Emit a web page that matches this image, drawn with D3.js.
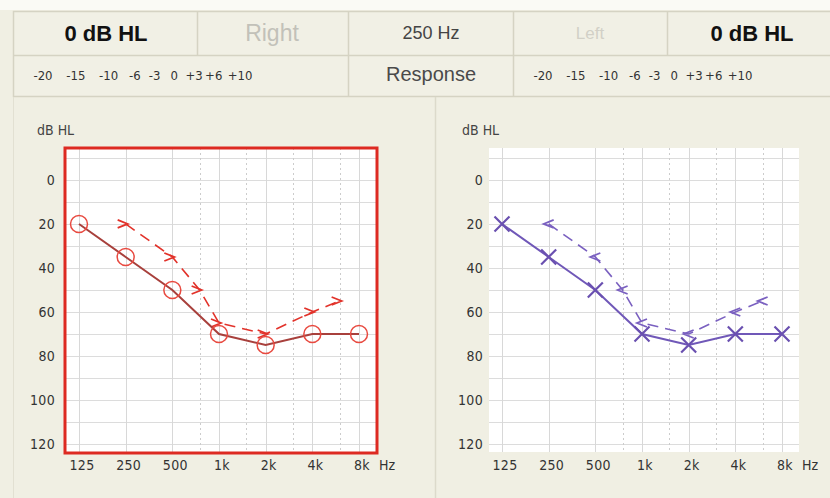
<!DOCTYPE html>
<html>
<head>
<meta charset="utf-8">
<script src="https://cdn.jsdelivr.net/npm/d3@7"></script>
<style>
  html, body { margin: 0; padding: 0; background: #f0efe3; }
  svg { display: block; font-family: "Liberation Sans", Arial, sans-serif; }
</style>
</head>
<body>
<script>
// audiogram data
var freqTicks = [125, 250, 500, 1000, 2000, 4000, 8000];
var freqLabels = ["125", "250", "500", "1k", "2k", "4k", "8k"];
var halfOctaves = [750, 1500, 3000, 6000];
var dbTicks = [0, 20, 40, 60, 80, 100, 120];
var dbGrid = [-10, 0, 10, 20, 30, 40, 50, 60, 70, 80, 90, 100, 110, 120];

var airFreqs = [125, 250, 500, 1000, 2000, 4000, 8000];
var rightAir = [20, 35, 50, 70, 75, 70, 70];
var leftAir = [20, 35, 50, 70, 75, 70, 70];

var boneFreqs = [250, 500, 750, 1000, 2000, 4000, 6000];
var rightBone = [20, 35, 50, 65, 70, 60, 55];
var leftBone = [20, 35, 50, 65, 70, 60, 55];

var maskSteps = [-20, -15, -10, -6, -3, 0, 3, 6, 10];

var WIDTH = 830, HEIGHT = 498;
var LINE = "#d5d3c3"; // header cell borders
var NARROW = "'Liberation Sans Narrow', 'DejaVu Sans Condensed', 'Liberation Sans', sans-serif";

var svg = d3.select("body").append("svg")
    .attr("width", WIDTH)
    .attr("height", HEIGHT);

// background, white strip at the very top
svg.append("rect").attr("width", WIDTH).attr("height", HEIGHT).attr("fill", "#f0efe3");
svg.append("rect").attr("width", WIDTH).attr("height", 10).attr("fill", "#fafaf5");

// ---------- header table ----------
var hdr = svg.append("g");
hdr.append("rect").attr("x", 13.5).attr("y", 11.5).attr("width", 830).attr("height", 85)
    .attr("fill", "#f1f0e5").attr("stroke", LINE).attr("stroke-width", 1.5);
hdr.append("line").attr("x1", 13).attr("x2", 830).attr("y1", 55.5).attr("y2", 55.5)
    .attr("stroke", LINE).attr("stroke-width", 1.5);
[197, 667].forEach(x => {
  hdr.append("line").attr("x1", x + 0.5).attr("x2", x + 0.5).attr("y1", 12).attr("y2", 55)
      .attr("stroke", LINE).attr("stroke-width", 1.5);
});
[348, 513].forEach(x => {
  hdr.append("line").attr("x1", x + 0.5).attr("x2", x + 0.5).attr("y1", 12).attr("y2", 96)
      .attr("stroke", LINE).attr("stroke-width", 1.5);
});

function htext(x, y, txt, size, color, weight) {
  hdr.append("text").attr("x", x).attr("y", y)
      .attr("text-anchor", "middle")
      .attr("font-size", size)
      .attr("font-weight", weight || "normal")
      .attr("fill", color)
      .text(txt);
}
htext(106, 41, "0 dB HL", 22, "#111", "bold");
htext(272, 41, "Right", 23, "#c2c1b9", "normal");
htext(431, 39, "250 Hz", 18, "#444");
htext(590, 39, "Left", 17, "#d2d0c7");
htext(752, 41, "0 dB HL", 22, "#111", "bold");
htext(431, 81, "Response", 20, "#4a4a4a");

// masking step scales in both lower cells
[13, 513].forEach(cx => {
  var s = d3.scaleLinear().domain([-20, 10]).range([cx + 30, cx + 227]);
  hdr.selectAll(null).data(maskSteps).enter().append("text")
      .attr("x", d => s(d))
      .attr("y", 80)
      .attr("text-anchor", "middle")
      .attr("font-family", NARROW)
      .attr("font-size", 13)
      .attr("fill", "#333")
      .text(d => d > 0 ? "+" + d : (d < 0 ? "-" + Math.abs(d) : "0"));
});

// panel divider
svg.append("line").attr("x1", 435.5).attr("x2", 435.5).attr("y1", 97).attr("y2", HEIGHT)
    .attr("stroke", "#dcdacb").attr("stroke-width", 1.5);
svg.append("line").attr("x1", 13.5).attr("x2", 13.5).attr("y1", 97).attr("y2", HEIGHT)
    .attr("stroke", "#e2e0d2").attr("stroke-width", 1);

// ---------- one audiogram panel ----------
var PW = 310, PTOP = 148, PBOT = 452;
var x = d3.scaleLog().domain([125, 8000]).range([13, 293]);
var y = d3.scaleLinear().domain([-14.5, 123.6]).range([PTOP, PBOT]);

function audiogram(cfg) {
  var g = svg.append("g").attr("transform", "translate(" + cfg.x0 + ",0)");

  g.append("rect").attr("x", 0).attr("y", PTOP).attr("width", PW).attr("height", PBOT - PTOP)
      .attr("fill", "#ffffff");

  // grid
  g.selectAll(".hg").data(dbGrid).enter().append("line")
      .attr("x1", 0).attr("x2", PW)
      .attr("y1", d => Math.round(y(d)) + 0.5).attr("y2", d => Math.round(y(d)) + 0.5)
      .attr("stroke", "#dcdcdc").attr("stroke-width", 1);
  g.selectAll(".vg").data(freqTicks).enter().append("line")
      .attr("x1", d => Math.round(x(d)) + 0.5).attr("x2", d => Math.round(x(d)) + 0.5)
      .attr("y1", PTOP).attr("y2", PBOT)
      .attr("stroke", "#d8d8d8").attr("stroke-width", 1);
  g.selectAll(".vh").data(halfOctaves).enter().append("line")
      .attr("x1", d => Math.round(x(d)) + 0.5).attr("x2", d => Math.round(x(d)) + 0.5)
      .attr("y1", PTOP).attr("y2", PBOT)
      .attr("stroke", "#cccccc").attr("stroke-width", 1)
      .attr("stroke-dasharray", "2,3");

  // axis labels
  g.append("text").attr("x", cfg.unitX).attr("y", 135)
      .attr("font-family", NARROW)
      .attr("font-size", 14).attr("fill", "#444").text("dB HL");
  g.selectAll(".yl").data(dbTicks).enter().append("text")
      .attr("x", -cfg.labelGap).attr("y", d => y(d) + 5)
      .attr("text-anchor", "end").attr("font-size", 14).attr("fill", "#333")
      .attr("font-family", NARROW).attr("letter-spacing", 0.3)
      .text(d => d);
  g.selectAll(".xl").data(freqTicks).enter().append("text")
      .attr("x", d => x(d) + 3).attr("y", 470)
      .attr("text-anchor", "middle").attr("font-size", 14).attr("fill", "#333")
      .attr("font-family", NARROW).attr("letter-spacing", 0.3)
      .text((d, i) => freqLabels[i]);
  g.append("text").attr("x", x(8000) + 20).attr("y", 470)
      .attr("text-anchor", "start").attr("font-size", 14).attr("fill", "#333")
      .attr("font-family", NARROW).text("Hz");

  // bone conduction, dashed
  var bone = boneFreqs.map((f, i) => ({ f: f, v: cfg.bone[i] }));
  var line = d3.line().x(d => x(d.f)).y(d => y(d.v));
  g.append("path").datum(bone).attr("d", line)
      .attr("fill", "none").attr("stroke", cfg.boneColor).attr("stroke-width", 1.6)
      .attr("stroke-dasharray", "11,7");
  g.selectAll(".bm").data(bone).enter().append("path")
      .attr("transform", d => "translate(" + (x(d.f) + cfg.boneDx) + "," + y(d.v) + ")")
      .attr("d", cfg.boneShape)
      .attr("fill", "none").attr("stroke", cfg.boneColor).attr("stroke-width", 1.8);

  // air conduction, solid
  var air = airFreqs.map((f, i) => ({ f: f, v: cfg.air[i] }));
  g.append("path").datum(air).attr("d", line)
      .attr("fill", "none").attr("stroke", cfg.lineColor).attr("stroke-width", 2);
  if (cfg.marker === "circle") {
    g.selectAll(".am").data(air).enter().append("circle")
        .attr("cx", d => x(d.f)).attr("cy", d => y(d.v)).attr("r", 8.5)
        .attr("fill", "none").attr("stroke", cfg.markColor).attr("stroke-width", 1.5);
  } else {
    g.selectAll(".am").data(air).enter().append("path")
        .attr("transform", d => "translate(" + x(d.f) + "," + y(d.v) + ")")
        .attr("d", "M-7.5,-7.5L7.5,7.5M-7.5,7.5L7.5,-7.5")
        .attr("fill", "none").attr("stroke", cfg.markColor).attr("stroke-width", 2.2);
  }

  // selection frame
  if (cfg.frame) {
    g.append("rect").attr("x", -1).attr("y", PTOP).attr("width", PW + 2).attr("height", PBOT - PTOP + 1)
        .attr("fill", "none").attr("stroke", cfg.frame).attr("stroke-width", 3);
  }
}

audiogram({
  x0: 66, labelGap: 11, unitX: -29,
  air: rightAir, bone: rightBone,
  marker: "circle", markColor: "#e84a40", lineColor: "#a8403c",
  boneColor: "#e2322a", boneShape: "M-5,-4L5,0L-5,4", boneDx: -3,
  frame: "#dd2a22"
});

audiogram({
  x0: 489, labelGap: 6, unitX: -27,
  air: leftAir, bone: leftBone,
  marker: "x", markColor: "#6a50b0", lineColor: "#7058b8",
  boneColor: "#7a60c0", boneShape: "M5,-4L-5,0L5,4", boneDx: 0,
  frame: null
});
</script>
</body>
</html>
